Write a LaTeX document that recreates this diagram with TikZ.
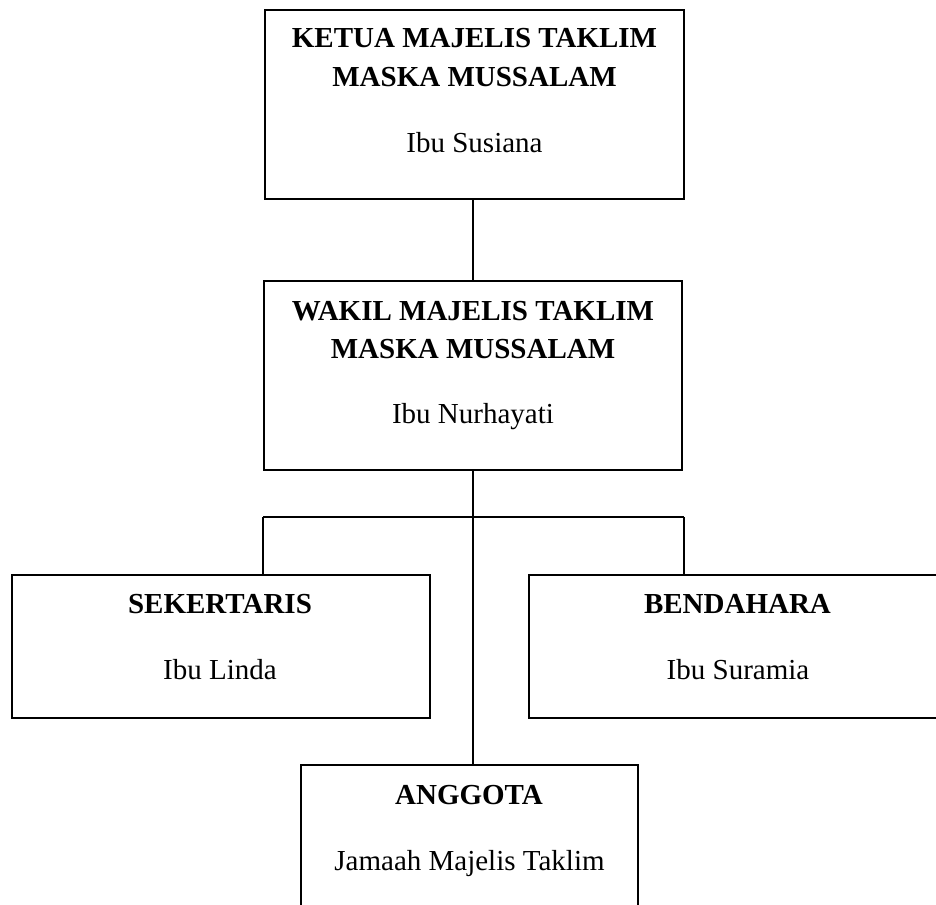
\documentclass[tikz,border=0pt]{standalone}
\usepackage{fontspec}
\setmainfont{Liberation Serif}
\begin{document}
\begin{tikzpicture}[x=1pt,y=-1pt,
  box/.style={draw,line width=1.8pt,rectangle,inner sep=0pt,outer sep=0pt},
  conn/.style={line width=1.2pt},
  hd/.style={anchor=base,inner sep=0pt,font=\fontsize{29}{35}\selectfont\bfseries},
  nm/.style={anchor=base,inner sep=0pt,font=\fontsize{29}{35}\selectfont}]
\useasboundingbox (0,0) rectangle (936,904);
\clip (0,0) rectangle (936,904);
% boxes
\node[box,minimum width=419pt,minimum height=189pt] (k) at (474.5,104.5) {};
\node[box,minimum width=418pt,minimum height=189pt] (w) at (473,375.5) {};
\node[box,minimum width=418pt,minimum height=143pt] (s) at (221,646.5) {};
\node[box,minimum width=418pt,minimum height=143pt] (b) at (738,646.5) {};
\node[box,minimum width=337pt,minimum height=144pt] (a) at (469.5,837) {};
% texts
\node[hd] (k1) at (474.5,48) {KETUA MAJELIS TAKLIM};
\node[hd] (k2) at (474.5,87) {MASKA MUSSALAM};
\node[nm] (k3) at (474.5,153) {Ibu Susiana};
\node[hd] (w1) at (473,320) {WAKIL MAJELIS TAKLIM};
\node[hd] (w2) at (473,358) {MASKA MUSSALAM};
\node[nm] (w3) at (473,423) {Ibu Nurhayati};
\node[hd] (s1) at (220,613) {SEKERTARIS};
\node[nm] (s2) at (220,679) {Ibu Linda};
\node[hd] (b1) at (737.5,613) {BENDAHARA};
\node[nm] (b2) at (738,679) {Ibu Suramia};
\node[hd] (a1) at (469,804) {ANGGOTA};
\node[nm] (a2) at (469.5,870) {Jamaah Majelis Taklim};
% connectors
\coordinate (hl) at (263,517);
\coordinate (hr) at (684,517);
\draw[conn] (w.north) -- (w.north |- k.south);
\draw[conn] (w.south) -- (w.south |- a.north);
\draw[conn] (hl) -- (hr);
\draw[conn] (hl) -- (hl |- s.north);
\draw[conn] (hr) -- (hr |- b.north);
\end{tikzpicture}
\end{document}
